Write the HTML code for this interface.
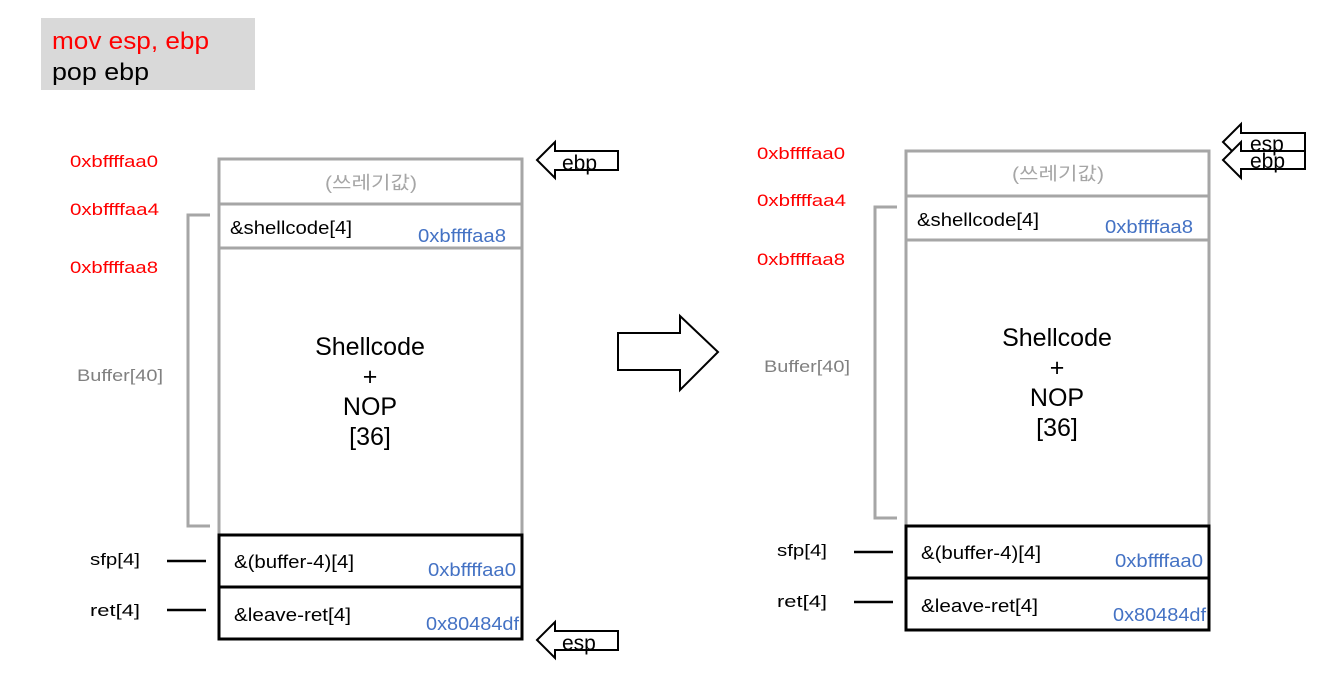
<!DOCTYPE html>
<html><head><meta charset="utf-8"><style>
body{margin:0;width:1334px;height:694px;background:#fff;overflow:hidden;font-family:"Liberation Sans","Noto Sans CJK KR",sans-serif}
svg text{font-family:"Liberation Sans","Noto Sans CJK KR",sans-serif}
</style></head><body>
<svg width="1334" height="694" xmlns="http://www.w3.org/2000/svg">
<rect x="41" y="18" width="214" height="72" fill="#d9d9d9"/>
<text x="52" y="49" font-size="24" fill="#ff0000" textLength="157" lengthAdjust="spacingAndGlyphs">mov esp, ebp</text>
<text x="52" y="80" font-size="24" fill="#000" textLength="97" lengthAdjust="spacingAndGlyphs">pop ebp</text>

<g>
<text x="70" y="167" font-size="17" fill="#ff0000" textLength="88" lengthAdjust="spacingAndGlyphs">0xbffffaa0</text>
<text x="70" y="215" font-size="17" fill="#ff0000" textLength="89" lengthAdjust="spacingAndGlyphs">0xbffffaa4</text>
<text x="70" y="273" font-size="17" fill="#ff0000" textLength="88" lengthAdjust="spacingAndGlyphs">0xbffffaa8</text>
<text x="77" y="381" font-size="17" fill="#808080" textLength="86" lengthAdjust="spacingAndGlyphs">Buffer[40]</text>
<polyline points="210,215 188,215 188,526 210,526" fill="none" stroke="#a6a6a6" stroke-width="3"/>
<rect x="219" y="159" width="303" height="376" fill="none" stroke="#a6a6a6" stroke-width="3"/>
<line x1="219" y1="204" x2="522" y2="204" stroke="#a6a6a6" stroke-width="3"/>
<line x1="219" y1="248" x2="522" y2="248" stroke="#a6a6a6" stroke-width="3"/>
<rect x="219" y="535" width="303" height="104" fill="none" stroke="#000" stroke-width="3"/>
<line x1="219" y1="587" x2="522" y2="587" stroke="#000" stroke-width="3"/>
<text x="325" y="189" font-size="18" fill="#a6a6a6" textLength="92" lengthAdjust="spacingAndGlyphs">(쓰레기값)</text>
<text x="230" y="234" font-size="18" textLength="122" lengthAdjust="spacingAndGlyphs">&amp;shellcode[4]</text>
<text x="418" y="242" font-size="18" fill="#4472c4" textLength="88" lengthAdjust="spacingAndGlyphs">0xbffffaa8</text>
<g font-size="25" text-anchor="middle"><text x="370" y="355">Shellcode</text><text x="370" y="385">+</text><text x="370" y="415">NOP</text><text x="370" y="445">[36]</text></g>
<text x="234" y="568" font-size="18" textLength="120" lengthAdjust="spacingAndGlyphs">&amp;(buffer-4)[4]</text>
<text x="428" y="576" font-size="18" fill="#4472c4" textLength="88" lengthAdjust="spacingAndGlyphs">0xbffffaa0</text>
<text x="234" y="621" font-size="18" textLength="117" lengthAdjust="spacingAndGlyphs">&amp;leave-ret[4]</text>
<text x="426" y="630" font-size="18" fill="#4472c4" textLength="93" lengthAdjust="spacingAndGlyphs">0x80484df</text>
<text x="90" y="565" font-size="17" textLength="50" lengthAdjust="spacingAndGlyphs">sfp[4]</text>
<text x="90" y="616" font-size="17" textLength="50" lengthAdjust="spacingAndGlyphs">ret[4]</text>
<line x1="167" y1="561" x2="206" y2="561" stroke="#000" stroke-width="2.5"/>
<line x1="167" y1="610" x2="206" y2="610" stroke="#000" stroke-width="2.5"/>
</g>

<g fill="#fff" stroke="#000" stroke-width="2">
<polygon points="537,160 555,142 555,151 618,151 618,170 555,170 555,178"/>
<polygon points="537,640 555,622 555,631 618,631 618,650 555,650 555,658"/>
<polygon points="1223,142 1241,124 1241,133 1305,133 1305,151 1241,151 1241,160"/>
<polygon points="1223,160 1241,142 1241,151 1305,151 1305,169 1241,169 1241,178"/>
<polygon points="618,333 680,333 680,316 718,352 680,390 680,370 618,370"/>
</g>
<g font-size="21"><text x="562" y="170">ebp</text><text x="562" y="650">esp</text>
<text x="1250" y="151">esp</text><text x="1250" y="168">ebp</text></g>

<g>
<text x="757" y="159" font-size="17" fill="#ff0000" textLength="88" lengthAdjust="spacingAndGlyphs">0xbffffaa0</text>
<text x="757" y="206" font-size="17" fill="#ff0000" textLength="89" lengthAdjust="spacingAndGlyphs">0xbffffaa4</text>
<text x="757" y="265" font-size="17" fill="#ff0000" textLength="88" lengthAdjust="spacingAndGlyphs">0xbffffaa8</text>
<text x="764" y="372" font-size="17" fill="#808080" textLength="86" lengthAdjust="spacingAndGlyphs">Buffer[40]</text>
<polyline points="897,207 875,207 875,518 897,518" fill="none" stroke="#a6a6a6" stroke-width="3"/>
<rect x="906" y="151" width="303" height="375" fill="none" stroke="#a6a6a6" stroke-width="3"/>
<line x1="906" y1="196" x2="1209" y2="196" stroke="#a6a6a6" stroke-width="3"/>
<line x1="906" y1="240" x2="1209" y2="240" stroke="#a6a6a6" stroke-width="3"/>
<rect x="906" y="526" width="303" height="104" fill="none" stroke="#000" stroke-width="3"/>
<line x1="906" y1="578" x2="1209" y2="578" stroke="#000" stroke-width="3"/>
<text x="1012" y="180" font-size="18" fill="#a6a6a6" textLength="92" lengthAdjust="spacingAndGlyphs">(쓰레기값)</text>
<text x="917" y="226" font-size="18" textLength="122" lengthAdjust="spacingAndGlyphs">&amp;shellcode[4]</text>
<text x="1105" y="233" font-size="18" fill="#4472c4" textLength="88" lengthAdjust="spacingAndGlyphs">0xbffffaa8</text>
<g font-size="25" text-anchor="middle"><text x="1057" y="346">Shellcode</text><text x="1057" y="376">+</text><text x="1057" y="406">NOP</text><text x="1057" y="436">[36]</text></g>
<text x="921" y="559" font-size="18" textLength="120" lengthAdjust="spacingAndGlyphs">&amp;(buffer-4)[4]</text>
<text x="1115" y="567" font-size="18" fill="#4472c4" textLength="88" lengthAdjust="spacingAndGlyphs">0xbffffaa0</text>
<text x="921" y="612" font-size="18" textLength="117" lengthAdjust="spacingAndGlyphs">&amp;leave-ret[4]</text>
<text x="1113" y="621" font-size="18" fill="#4472c4" textLength="93" lengthAdjust="spacingAndGlyphs">0x80484df</text>
<text x="777" y="556" font-size="17" textLength="50" lengthAdjust="spacingAndGlyphs">sfp[4]</text>
<text x="777" y="607" font-size="17" textLength="50" lengthAdjust="spacingAndGlyphs">ret[4]</text>
<line x1="854" y1="552" x2="893" y2="552" stroke="#000" stroke-width="2.5"/>
<line x1="854" y1="602" x2="893" y2="602" stroke="#000" stroke-width="2.5"/>
</g>
</svg>
</body></html>
